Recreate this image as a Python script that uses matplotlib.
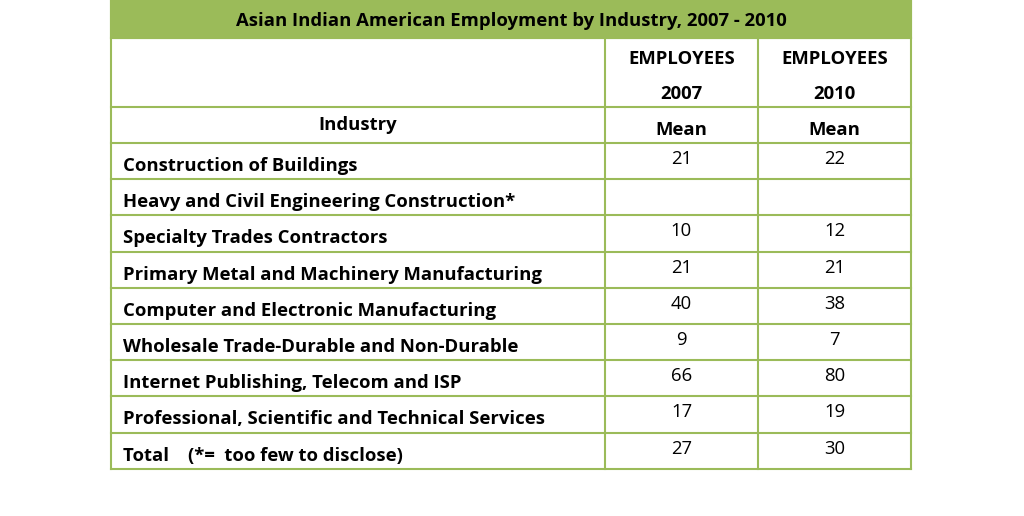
import matplotlib
matplotlib.use("Agg")
import matplotlib.pyplot as plt
from matplotlib.patches import Rectangle

title = "Asian Indian American Employment by Industry, 2007 - 2010"
industries = ["Construction of Buildings",
              "Heavy and Civil Engineering Construction*",
              "Specialty Trades Contractors",
              "Primary Metal and Machinery Manufacturing",
              "Computer and Electronic Manufacturing",
              "Wholesale Trade-Durable and Non-Durable",
              "Internet Publishing, Telecom and ISP",
              "Professional, Scientific and Technical Services",
              "Total    (*=  too few to disclose)"]
v2007 = ["21", "", "10", "21", "40", "9", "66", "17", "27"]
v2010 = ["22", "", "12", "21", "38", "7", "80", "19", "30"]
col_heads = ["EMPLOYEES\n2007", "EMPLOYEES\n2010"]

green = "#9BBB59"
fig = plt.figure(figsize=(10.24, 5.16), dpi=100)
ax = fig.add_axes([0, 0, 1, 1])
ax.set_xlim(0, 1024); ax.set_ylim(516, 0); ax.axis("off")
FONT = "Open Sans"
fs = 13.3

x0, x1, x2, x3 = 111, 605, 758, 911
ax.add_patch(Rectangle((x0, 1), x3 - x0, 37, facecolor=green, edgecolor=green, lw=1.5))
ax.text((x0 + x3) / 2, 21, title, ha="center", va="center", fontsize=fs, fontweight="bold", family=FONT)

ys = [38, 107, 143] + [143 + 36.2 * (i + 1) for i in range(len(industries))]
for y in ys:
    ax.plot([x0, x3], [y, y], color=green, lw=1.5)
bottom = ys[-1]
ax.plot([x0, x0], [1, bottom], color=green, lw=1.5)
ax.plot([x3, x3], [1, bottom], color=green, lw=1.5)
for x in (x1, x2):
    ax.plot([x, x], [38, bottom], color=green, lw=1.5)

cx = [(x1 + x2) / 2, (x2 + x3) / 2]
for c, h in zip(cx, col_heads):
    a, b = h.split("\n")
    ax.text(c, 59, a, ha="center", va="center", fontsize=fs, fontweight="bold", family=FONT)
    ax.text(c, 94, b, ha="center", va="center", fontsize=fs, fontweight="bold", family=FONT)
    ax.text(c, 130, "Mean", ha="center", va="center", fontsize=fs, fontweight="bold", family=FONT)
ax.text((x0 + x1) / 2, 125, "Industry", ha="center", va="center", fontsize=fs, fontweight="bold", family=FONT)

for i, (name, a, b) in enumerate(zip(industries, v2007, v2010)):
    top = ys[2 + i]
    ax.text(123, top + 23, name, ha="left", va="center", fontsize=fs, fontweight="bold", family=FONT)
    ax.text(cx[0], top + 16, a, ha="center", va="center", fontsize=fs, family=FONT)
    ax.text(cx[1], top + 16, b, ha="center", va="center", fontsize=fs, family=FONT)

fig.savefig("out.png", dpi=100)
